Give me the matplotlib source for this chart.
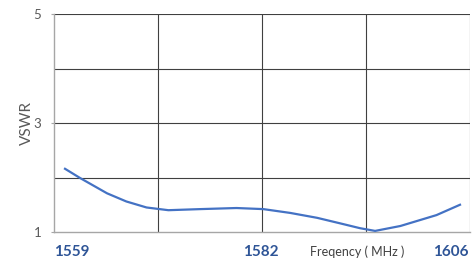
import matplotlib.pyplot as plt
import numpy as np

plt.rcParams['font.family'] = ['Lato', 'DejaVu Sans']

# data
freq = [1559, 1560.8, 1564, 1566.3, 1568.7, 1571.3, 1575.1, 1579.4, 1582.6,
        1585.8, 1589, 1591.7, 1594.1, 1595.9, 1598.9, 1603.2, 1606]
vswr = [2.16, 1.99, 1.71, 1.56, 1.45, 1.40, 1.42, 1.44, 1.42,
        1.35, 1.26, 1.16, 1.07, 1.02, 1.11, 1.31, 1.50]
x_labels = [1559, 1582, 1606]
y_ticks = [1, 3, 5]

fig = plt.figure(figsize=(4.75, 2.58), dpi=100)
ax = fig.add_axes([54/475, 26/258, 416/475, 218/258])

xmin, xmax = 1557.69, 1607.19
ax.set_xlim(xmin, xmax)
ax.set_ylim(1, 5)

# grid
for gx in np.linspace(xmin, xmax, 5)[1:]:
    ax.axvline(gx, color='#404040', lw=0.8, zorder=1)
for gy in [2, 3, 4, 5]:
    ax.axhline(gy, color='#404040', lw=0.8, zorder=1)

ax.plot(freq, vswr, color='#4472C4', lw=1.6, zorder=3)

for s in ['top', 'right']:
    ax.spines[s].set_visible(False)
for s in ['left', 'bottom']:
    ax.spines[s].set_color('#a6a6a6')
    ax.spines[s].set_linewidth(1.0)

ax.set_xticks([])
ax.set_yticks(y_ticks)
ax.set_yticklabels([str(v) for v in y_ticks], color='#595959', fontsize=9.5)
ax.tick_params(axis='y', length=2, color='#a6a6a6', pad=7)
ax.set_ylabel('VSWR', color='#595959', fontsize=11, labelpad=0)

# x labels as text, like the original
trans = ax.get_xaxis_transform()
for xl, xpos, ha in zip(x_labels, [xmin, 1582.3, 1604.9], ['left', 'center', 'center']):
    ax.text(xpos, -0.09, str(xl), transform=trans, ha=ha, va='center',
            fontsize=11, fontweight='bold', color='#2F5597')
ax.text(1593.8, -0.09, 'Freqency ( MHz )', transform=trans, ha='center', va='center',
        fontsize=9, color='#404040')

fig.savefig('out.png', dpi=100)
